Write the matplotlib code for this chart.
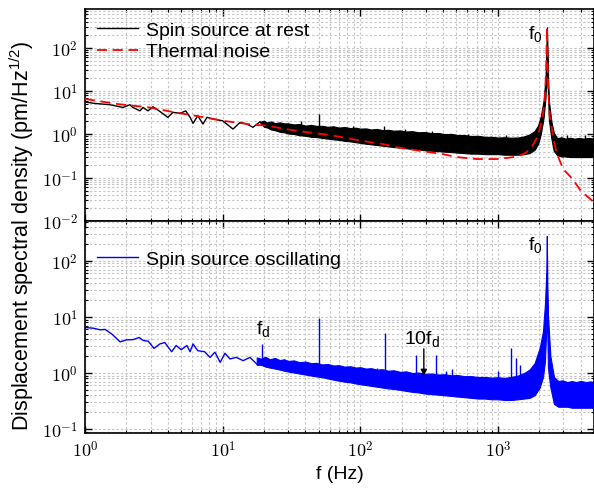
import math
import matplotlib
matplotlib.use("Agg")
import matplotlib.pyplot as plt
from matplotlib.ticker import LogLocator, NullFormatter, FuncFormatter

plt.rcParams['font.family'] = ['Liberation Sans', 'DejaVu Sans']
plt.rcParams['mathtext.fontset'] = 'cm'
plt.rcParams['mathtext.rm'] = 'Liberation Sans'

# ---------------- data ----------------
# top panel: spin source at rest, low-frequency trace (Hz, pm/Hz^1/2)
rest_f = [1.0, 1.18, 1.52, 1.89, 2.12, 2.23, 2.51, 2.64, 2.87, 3.12, 3.5, 4.0, 4.36,
          4.9, 5.4, 5.8, 6.1, 6.6, 7.2, 7.7, 8.5, 10.0, 11.9, 13.4, 15.0, 16.6, 18.7]
rest_v = [5.6, 5.2, 4.85, 4.2, 4.85, 4.2, 3.5, 4.2, 3.5, 4.36, 3.4, 2.48, 3.24,
          3.07, 3.5, 2.48, 1.8, 2.7, 1.74, 2.48, 2.27, 2.07, 1.33, 1.9, 1.74, 1.46, 1.96]
# top panel: dense noise band (upper / lower envelope)
rest_band_f = [18.7, 20, 21, 22.5, 24, 26, 28, 30, 33, 36,
               40, 44, 48, 53, 58, 64, 70, 77, 85, 93,
               100, 110, 120, 132, 145, 160, 175, 195, 215, 240,
               265, 295, 330, 370, 410, 460, 510, 570, 640, 720,
               800, 900, 1000, 1120, 1250, 1400, 1550, 1700, 1850, 1960,
               2050, 2150, 2220, 2260, 2277, 2300, 2350, 2450, 2550, 2700,
               2900, 3100, 3350, 3600, 3900, 4200, 4600, 5000]
rest_band_hi = [1.96, 2.08, 1.88, 2.0, 1.82, 1.9, 1.8, 1.8, 1.7, 1.74,
                1.6, 1.66, 1.58, 1.58, 1.5, 1.54, 1.44, 1.48, 1.4, 1.43,
                1.36, 1.38, 1.3, 1.34, 1.26, 1.28, 1.22, 1.24, 1.17, 1.19,
                1.12, 1.14, 1.07, 1.08, 1.02, 1.03, 0.97, 0.97, 0.92, 0.93,
                0.88, 0.88, 0.85, 0.86, 0.84, 0.85, 0.9, 1.0, 1.2, 1.6,
                2.6, 6.0, 20, 110, 297, 50, 6.0, 2.0, 1.1, 0.82,
                0.86, 0.8, 0.84, 0.8, 0.83, 0.8, 0.83, 0.8]
rest_band_lo = [1.9, 1.5, 1.45, 1.3, 1.25, 1.15, 1.12, 1.05, 1.02, 0.96,
                0.93, 0.88, 0.87, 0.83, 0.8, 0.77, 0.75, 0.71, 0.69, 0.66,
                0.64, 0.61, 0.59, 0.57, 0.55, 0.53, 0.51, 0.5, 0.48, 0.46,
                0.45, 0.43, 0.42, 0.41, 0.40, 0.39, 0.38, 0.37, 0.36, 0.36,
                0.35, 0.35, 0.35, 0.34, 0.34, 0.34, 0.35, 0.37, 0.44, 0.6,
                1.0, 2.4, 7.0, 30, 150, 15, 2.2, 0.8, 0.42, 0.33,
                0.31, 0.31, 0.3, 0.3, 0.3, 0.3, 0.3, 0.3]
rest_spike_f = [50, 150, 37, 88, 210, 330, 610, 1150, 3200, 4300]
rest_spike_top = [2.96, 1.58, 2.0, 1.6, 1.35, 1.22, 1.05, 0.98, 0.95, 0.96]
rest_spike_base = [1.0, 0.8, 1.2, 0.9, 0.8, 0.7, 0.6, 0.6, 0.6, 0.6]

# thermal noise model curve
thermal_f = [1, 1.75, 2.96, 4.14, 6.3, 7.8, 10, 12.3, 16.7, 20.8, 30, 41.7, 60, 79, 100,
             146, 188, 270, 400, 500, 700, 1000, 1200, 1402, 1600, 1754, 1960, 2095,
             2191, 2245, 2277, 2317, 2383, 2518, 2663, 2977, 3500, 4000, 5000]
thermal_v = [6.6, 5.0, 4.2, 3.4, 2.7, 2.4, 2.07, 1.9, 1.67, 1.6, 1.3, 1.12, 0.97, 0.83,
             0.72, 0.6, 0.5, 0.42, 0.35, 0.30, 0.27, 0.27, 0.29, 0.31, 0.38, 0.50, 0.93,
             2.27, 5.5, 32, 297, 13.3, 2.7, 0.93, 0.39, 0.16, 0.093, 0.05, 0.027]

# bottom panel: spin source oscillating, low-frequency trace
osc_f = [1.0, 1.15, 1.29, 1.4, 1.56, 1.8, 2.0, 2.24, 2.48, 2.65, 2.88, 3.17, 3.5, 3.8,
         4.26, 4.6, 5.0, 5.5, 5.8, 6.1, 6.6, 7.4, 8.1, 8.8, 9.6, 10.4, 11.3, 12.6, 14.1,
         15.8, 17.7]
osc_v = [6.5, 6.3, 5.9, 6.0, 5.0, 3.6, 3.9, 3.95, 4.3, 3.8, 3.7, 2.75, 3.3, 3.5, 2.4,
         3.1, 2.6, 3.1, 2.4, 3.3, 2.5, 2.4, 1.9, 2.35, 1.55, 2.25, 1.78, 1.9, 1.66, 1.9, 1.45]
osc_band_f = [17.7, 19, 20.5, 22, 24, 26, 28, 30, 33, 36,
              40, 44, 48, 53, 58, 64, 70, 77, 85, 93,
              100, 110, 120, 132, 145, 160, 175, 195, 215, 240,
              265, 295, 330, 370, 410, 460, 510, 570, 640, 720,
              800, 900, 1000, 1120, 1250, 1400, 1550, 1700, 1850, 2015,
              2130, 2200, 2250, 2270, 2290, 2313, 2410, 2560, 2750, 2950,
              3200, 3450, 3700, 4000, 4400, 4700, 5000]
osc_band_hi = [1.9, 1.8, 1.95, 1.76, 1.86, 1.7, 1.76, 1.64, 1.68, 1.56,
               1.6, 1.5, 1.52, 1.42, 1.45, 1.36, 1.38, 1.3, 1.32, 1.25,
               1.27, 1.2, 1.22, 1.15, 1.17, 1.1, 1.12, 1.05, 1.07, 1.0,
               1.02, 0.97, 0.98, 0.94, 0.95, 0.91, 0.92, 0.88, 0.88, 0.85,
               0.85, 0.83, 0.84, 0.82, 0.85, 0.9, 1.0, 1.15, 1.5, 2.8,
               5.6, 17, 60, 280, 40, 11, 2.0, 0.85, 0.72, 0.74,
               0.69, 0.72, 0.69, 0.72, 0.69, 0.71, 0.69]
osc_band_lo = [1.4, 1.4, 1.3, 1.25, 1.2, 1.15, 1.1, 1.06, 1.02, 0.98,
               0.94, 0.9, 0.87, 0.84, 0.8, 0.76, 0.73, 0.7, 0.68, 0.65,
               0.63, 0.61, 0.59, 0.57, 0.55, 0.53, 0.52, 0.5, 0.48, 0.46,
               0.45, 0.43, 0.42, 0.41, 0.4, 0.39, 0.38, 0.37, 0.36, 0.35,
               0.35, 0.34, 0.34, 0.33, 0.33, 0.34, 0.35, 0.36, 0.4, 0.55,
               0.85, 1.6, 6.0, 60, 5.0, 1.25, 0.55, 0.28, 0.25, 0.25,
               0.25, 0.24, 0.24, 0.24, 0.24, 0.24, 0.24]
osc_spike_f = [19.2, 50.5, 133, 152, 254, 353, 420, 463, 1000, 1240, 1360, 1450, 1620]
osc_spike_top = [3.3, 9.5, 1.25, 5.2, 2.1, 2.1, 1.1, 1.2, 1.09, 2.8, 1.83, 1.4, 0.98]
osc_spike_base = [1.6, 1.0, 0.8, 0.8, 0.7, 0.6, 0.6, 0.6, 0.55, 0.55, 0.55, 0.55, 0.6]

# ---------------- figure ----------------
W, H = 594, 489
fig = plt.figure(figsize=(W / 100, H / 100), dpi=100)
L = 85 / W
ax1 = fig.add_axes([L, 1 - 222 / H, 1 - L, (222 - 10) / H])
ax2 = fig.add_axes([L, 1 - 434 / H, 1 - L, (434 - 222) / H], sharex=ax1)

BLUE = '#0000ff'
RED = '#ff0000'

# top panel
ax1.fill_between(rest_band_f, rest_band_lo, rest_band_hi, color='black', lw=0.8,
                 edgecolor='black', zorder=2)
l_rest, = ax1.plot(rest_f, rest_v, color='black', lw=1.0, zorder=2,
                   label='Spin source at rest')
ax1.vlines(rest_spike_f, rest_spike_base, rest_spike_top, color='black', lw=1.0, zorder=2)
l_th, = ax1.plot(thermal_f, thermal_v, color=RED, lw=1.3, dashes=(5.5, 3.2), zorder=3,
                 label='Thermal noise')

# bottom panel
ax2.fill_between(osc_band_f, osc_band_lo, osc_band_hi, color=BLUE, lw=0.8,
                 edgecolor=BLUE, zorder=2)
l_osc, = ax2.plot(osc_f, osc_v, color=BLUE, lw=1.0, zorder=2,
                  label='Spin source oscillating')
ax2.vlines(osc_spike_f, osc_spike_base, osc_spike_top, color=BLUE, lw=1.0, zorder=2)

pow_fmt = FuncFormatter(lambda v, p: r'$10^{%d}$' % int(round(math.log10(v))))

for ax in (ax1, ax2):
    ax.set_xscale('log')
    ax.set_yscale('log')
    ax.set_xlim(1, 5000)
    ax.xaxis.set_major_locator(LogLocator(base=10, numticks=10))
    ax.xaxis.set_minor_locator(LogLocator(base=10, subs=range(2, 10), numticks=100))
    ax.yaxis.set_minor_locator(LogLocator(base=10, subs=range(2, 10), numticks=100))
    ax.yaxis.set_minor_formatter(NullFormatter())
    ax.xaxis.set_minor_formatter(NullFormatter())
    ax.xaxis.set_major_formatter(pow_fmt)
    ax.yaxis.set_major_formatter(pow_fmt)
    ax.grid(True, which='both', color='#c4c4c4', lw=0.8, ls=(0, (2, 2)), zorder=0)
    ax.tick_params(which='both', direction='in', top=True, right=True,
                   labelsize=13, pad=5)
    ax.tick_params(which='major', length=5, width=1.0)
    ax.tick_params(which='minor', length=2.5, width=0.8)
    for s in ax.spines.values():
        s.set_linewidth(1.2)
    ax.set_axisbelow(True)

ax1.set_ylim(1e-2, 790)
ax2.set_ylim(0.085, 516)
ax1.tick_params(labelbottom=False)

ax2.set_xlabel('f (Hz)', fontsize=14, labelpad=3)
fig.text(22 / W, 1 - 236 / H, 'Displacement spectral density (pm/Hz$^{1/2}$)',
         rotation=90, ha='center', va='center', fontsize=15.5, math_fontfamily='custom')

leg1 = ax1.legend(handles=[l_rest, l_th], loc='upper left', frameon=False, fontsize=14,
                  handlelength=2.1, handletextpad=0.4, labelspacing=0.2,
                  borderaxespad=0.33, borderpad=0.3)
leg2 = ax2.legend(handles=[l_osc], loc='upper left', frameon=False, fontsize=14,
                  handlelength=2.1, handletextpad=0.4, borderaxespad=0.0,
                  borderpad=0.3, bbox_to_anchor=(0.0128, 0.889))

ax1.text(2120, 208, 'f$_0$', ha='right', va='center', fontsize=14,
         math_fontfamily='custom')
ax2.text(2120, 197, 'f$_0$', ha='right', va='center', fontsize=14,
         math_fontfamily='custom')
ax2.text(19.6, 6.1, r'f$_\mathrm{d}$', ha='center', va='center', fontsize=14,
         math_fontfamily='custom')
ax2.text(280, 4.0, r'10f$_\mathrm{d}$', ha='center', va='center', fontsize=14,
         math_fontfamily='custom')
ax2.annotate('', xy=(290, 0.89), xytext=(290, 2.7),
             arrowprops=dict(arrowstyle='-|>', color='black', lw=1.0,
                             mutation_scale=9, shrinkA=0, shrinkB=0))

fig.savefig('out.png', dpi=100)
